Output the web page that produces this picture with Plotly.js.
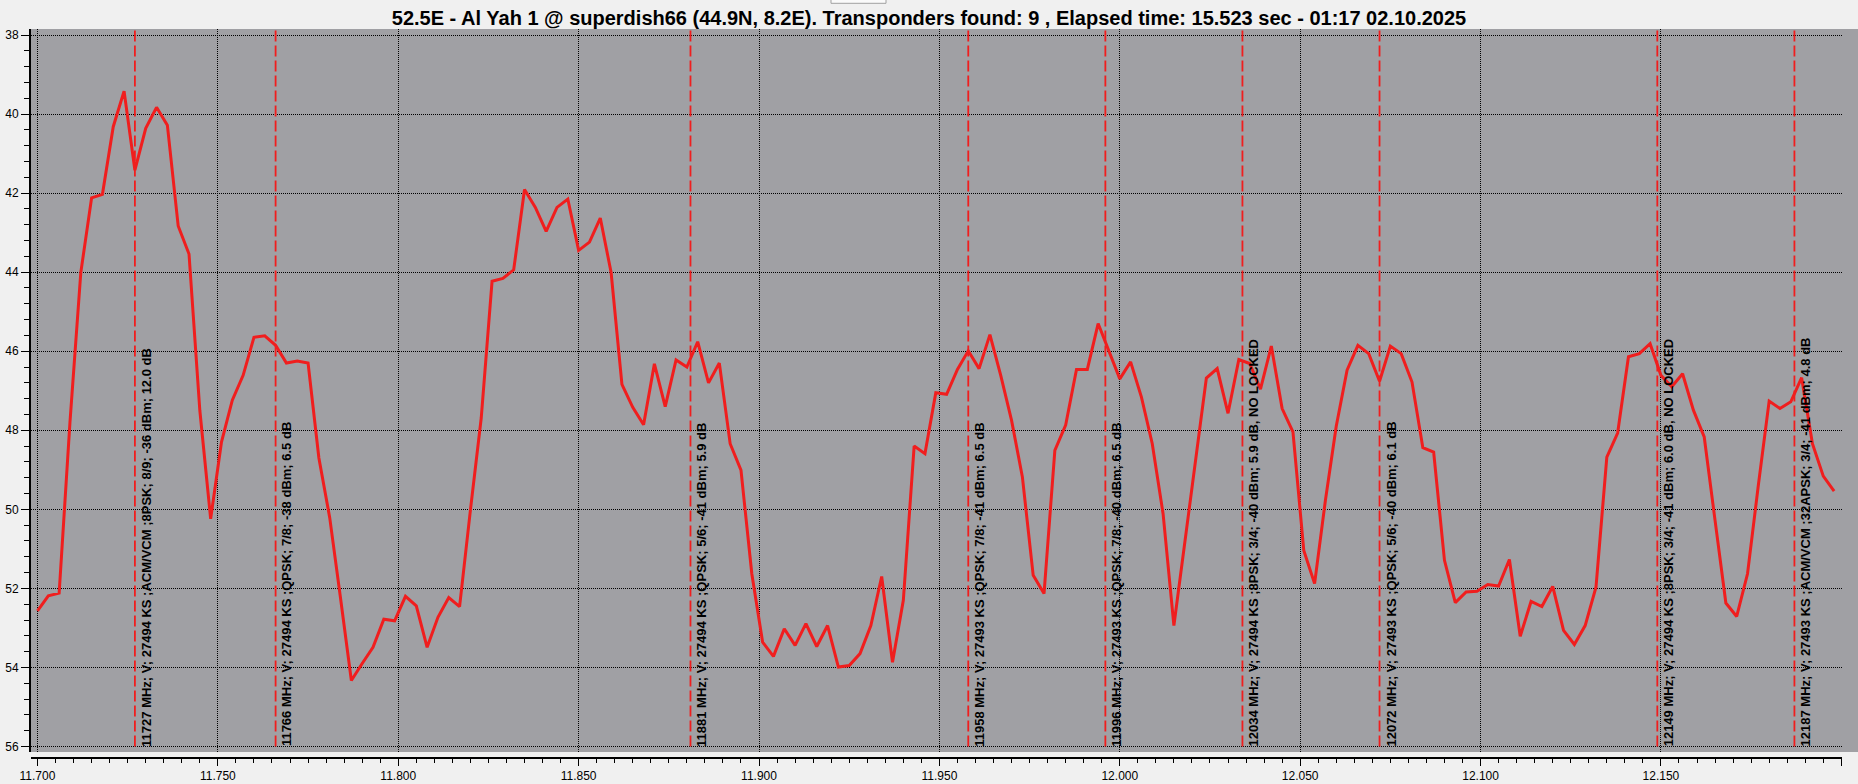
<!DOCTYPE html>
<html>
<head>
<meta charset="utf-8">
<script src="https://cdn.plot.ly/plotly-3.0.1.min.js"></script>
<style>
html,body{margin:0;padding:0;background:#f0f0f0;}
#chart{width:1858px;height:784px;}
</style>
</head>
<body>
<div id="chart"></div>
<script>
// Sweep frequencies (MHz)
const freqMHz = [
11700,11703,11706,11709,11712,11715,11718,11721,11724,11727,
11730,11733,11736,11739,11742,11745,11748,11751,11754,11757,
11760,11763,11766,11769,11772,11775,11778,11781,11784,11787,
11790,11793,11796,11799,11802,11805,11808,11811,11814,11817,
11820,11823,11826,11829,11832,11835,11838,11841,11844,11847,
11850,11853,11856,11859,11862,11865,11868,11871,11874,11877,
11880,11883,11886,11889,11892,11895,11898,11901,11904,11907,
11910,11913,11916,11919,11922,11925,11928,11931,11934,11937,
11940,11943,11946,11949,11952,11955,11958,11961,11964,11967,
11970,11973,11976,11979,11982,11985,11988,11991,11994,11997,
12000,12003,12006,12009,12012,12015,12018,12021,12024,12027,
12030,12033,12036,12039,12042,12045,12048,12051,12054,12057,
12060,12063,12066,12069,12072,12075,12078,12081,12084,12087,
12090,12093,12096,12099,12102,12105,12108,12111,12114,12117,
12120,12123,12126,12129,12132,12135,12138,12141,12144,12147,
12150,12153,12156,12159,12162,12165,12168,12171,12174,12177,
12180,12183,12186,12189,12192,12195,12198
];
// Measured level (axis value, as plotted)
const level = [
52.57,52.19,52.12,47.8,44.01,42.12,42.03,40.32,39.42,41.42,
40.36,39.83,40.28,42.83,43.54,47.5,50.24,48.30,47.24,46.61,
45.65,45.61,45.85,46.30,46.25,46.30,48.7,50.21,52.25,54.33,
53.90,53.49,52.78,52.82,52.20,52.44,53.49,52.73,52.23,52.46,
50.02,47.69,44.23,44.16,43.94,41.91,42.36,42.97,42.36,42.15,
43.45,43.24,42.63,44.01,46.84,47.42,47.86,46.32,47.40,46.22,
46.40,45.76,46.80,46.30,48.34,49.01,51.63,53.36,53.72,53.02,
53.44,52.89,53.47,52.94,53.99,53.95,53.65,52.94,51.70,53.87,
52.30,48.40,48.59,47.05,47.09,46.46,45.99,46.44,45.58,46.61,
47.75,49.18,51.67,52.13,48.51,47.87,46.46,46.46,45.30,46.0,
46.70,46.27,47.16,48.34,50.11,52.94,50.84,48.66,46.68,46.44,
47.57,46.21,46.31,46.96,45.87,47.45,48.04,51.04,51.88,49.77,
47.90,46.48,45.85,46.06,46.76,45.87,46.06,46.78,48.44,48.55,
51.29,52.36,52.09,52.07,51.90,51.94,51.27,53.21,52.33,52.46,
51.95,53.06,53.42,52.94,51.97,48.68,48.07,46.14,46.06,45.81,
46.61,46.90,46.57,47.49,48.17,50.28,52.37,52.71,51.63,49.39,
47.26,47.45,47.28,46.67,48.34,49.16,49.54
];
// Transponders found
const tpFreqMHz = [11727,11766,11881,11958,11996,12034,12072,12149,12187];
const tpLabels = [
"11727 MHz; V; 27494 KS ;ACM/VCM ;8PSK; 8/9; -36 dBm; 12.0 dB",
"11766 MHz; V; 27494 KS ;QPSK; 7/8; -38 dBm; 6.5 dB",
"11881 MHz; V; 27494 KS ;QPSK; 5/6; -41 dBm; 5.9 dB",
"11958 MHz; V; 27493 KS ;QPSK; 7/8; -41 dBm; 6.5 dB",
"11996 MHz; V; 27493 KS ;QPSK; 7/8; -40 dBm; 6.5 dB",
"12034 MHz; V; 27494 KS ;8PSK; 3/4; -40 dBm; 5.9 dB, NO LOCKED",
"12072 MHz; V; 27493 KS ;QPSK; 5/6; -40 dBm; 6.1 dB",
"12149 MHz; V; 27494 KS ;8PSK; 3/4; -41 dBm; 6.0 dB, NO LOCKED",
"12187 MHz; V; 27493 KS ;ACM/VCM ;32APSK; 3/4; -41 dBm; 4.8 dB"
];
const titleText = "52.5E - Al Yah 1 @ superdish66 (44.9N, 8.2E). Transponders found: 9 , Elapsed time: 15.523 sec - 01:17 02.10.2025";

const W = 1858, H = 784;
const mL = 29, mR = 16, mT = 29, mB = 27;
const plotW = W - mL - mR, plotH = H - mT - mB;
const xRange = [11.6982, 12.20019];
const yRange = [56.139, 37.848];
const GRAY = '#a0a0a4';
const RED = 'rgb(240,30,30)';

const xGHz = freqMHz.map(f => f / 1000);
const traces = [{
  x: xGHz, y: level, type: 'scatter', mode: 'lines',
  line: {color: RED, width: 3}, hoverinfo: 'skip', showlegend: false
}];
tpFreqMHz.forEach(f => {
  traces.push({
    x: [f / 1000, f / 1000], y: [56, yRange[1]],
    type: 'scatter', mode: 'lines',
    line: {color: RED, width: 1.8, dash: '11px,4px'},
    hoverinfo: 'skip', showlegend: false
  });
});

const annotations = tpFreqMHz.map((f, i) => ({
  x: f / 1000, y: 56, xref: 'x', yref: 'y',
  text: tpLabels[i], showarrow: false, textangle: -90,
  xanchor: 'left', yanchor: 'bottom', xshift: 1.5, yshift: -2,
  font: {family: 'Liberation Sans, Arial, sans-serif', size: 13, weight: 700, color: '#000'}
}));

const layout = {
  width: W, height: H,
  margin: {l: mL, r: mR, t: mT, b: mB, pad: 0},
  paper_bgcolor: '#f0f0f0', plot_bgcolor: GRAY,
  font: {family: 'Liberation Sans, Arial, sans-serif', size: 12, color: '#000'},
  title: {
    text: titleText, x: 0.5, xref: 'container', xanchor: 'center',
    y: 1 - 18 / H, yref: 'container', yanchor: 'middle',
    font: {family: 'Liberation Sans Narrow, Arial Narrow, Liberation Sans, sans-serif', size: 20, weight: 700, color: '#000'}
  },
  xaxis: {
    domain: [2 / plotW, 1], range: xRange, anchor: 'free', position: 0,
    tick0: 11.7, dtick: 0.05, tickformat: '.3f',
    ticks: 'outside', ticklen: 7, tickwidth: 1, tickcolor: '#000',
    showline: true, linecolor: '#000', linewidth: 1.5,
    showgrid: true, gridcolor: '#000', gridwidth: 1, griddash: '1px,1px',
    zeroline: false, tickfont: {size: 12, color: '#000'},
    minor: {dtick: 0.005, tick0: 11.7, ticks: 'outside', ticklen: 4, tickcolor: '#000', tickwidth: 1, showgrid: false}
  },
  yaxis: {
    domain: [5 / plotH, 1], range: yRange, anchor: 'free', position: 0,
    tick0: 38, dtick: 2,
    ticks: 'outside', ticklen: 8, tickwidth: 1, tickcolor: '#000',
    showline: true, linecolor: '#000', linewidth: 1.5,
    showgrid: true, gridcolor: '#000', gridwidth: 1, griddash: '1px,1px',
    zeroline: false, tickfont: {size: 12, color: '#000'},
    minor: {dtick: 0.4, tick0: 38, ticks: 'outside', ticklen: 5, tickcolor: '#000', tickwidth: 1, showgrid: false}
  },
  shapes: [
    {type: 'rect', xref: 'paper', yref: 'paper', x0: 1, x1: 1 + mR / plotW, y0: 5 / plotH, y1: 1,
     fillcolor: GRAY, line: {width: 0}, layer: 'below'},
    {type: 'rect', xref: 'paper', yref: 'paper', x0: (831 - mL) / plotW, x1: (886 - mL) / plotW,
     y0: 1 + (mT - 3.3) / plotH, y1: 1 + (mT + 2) / plotH,
     fillcolor: '#fafafa', line: {color: '#a0a0a0', width: 1}}
  ],
  annotations: annotations,
  showlegend: false
};

Plotly.newPlot('chart', traces, layout, {displayModeBar: false, staticPlot: true});
</script>
</body>
</html>
